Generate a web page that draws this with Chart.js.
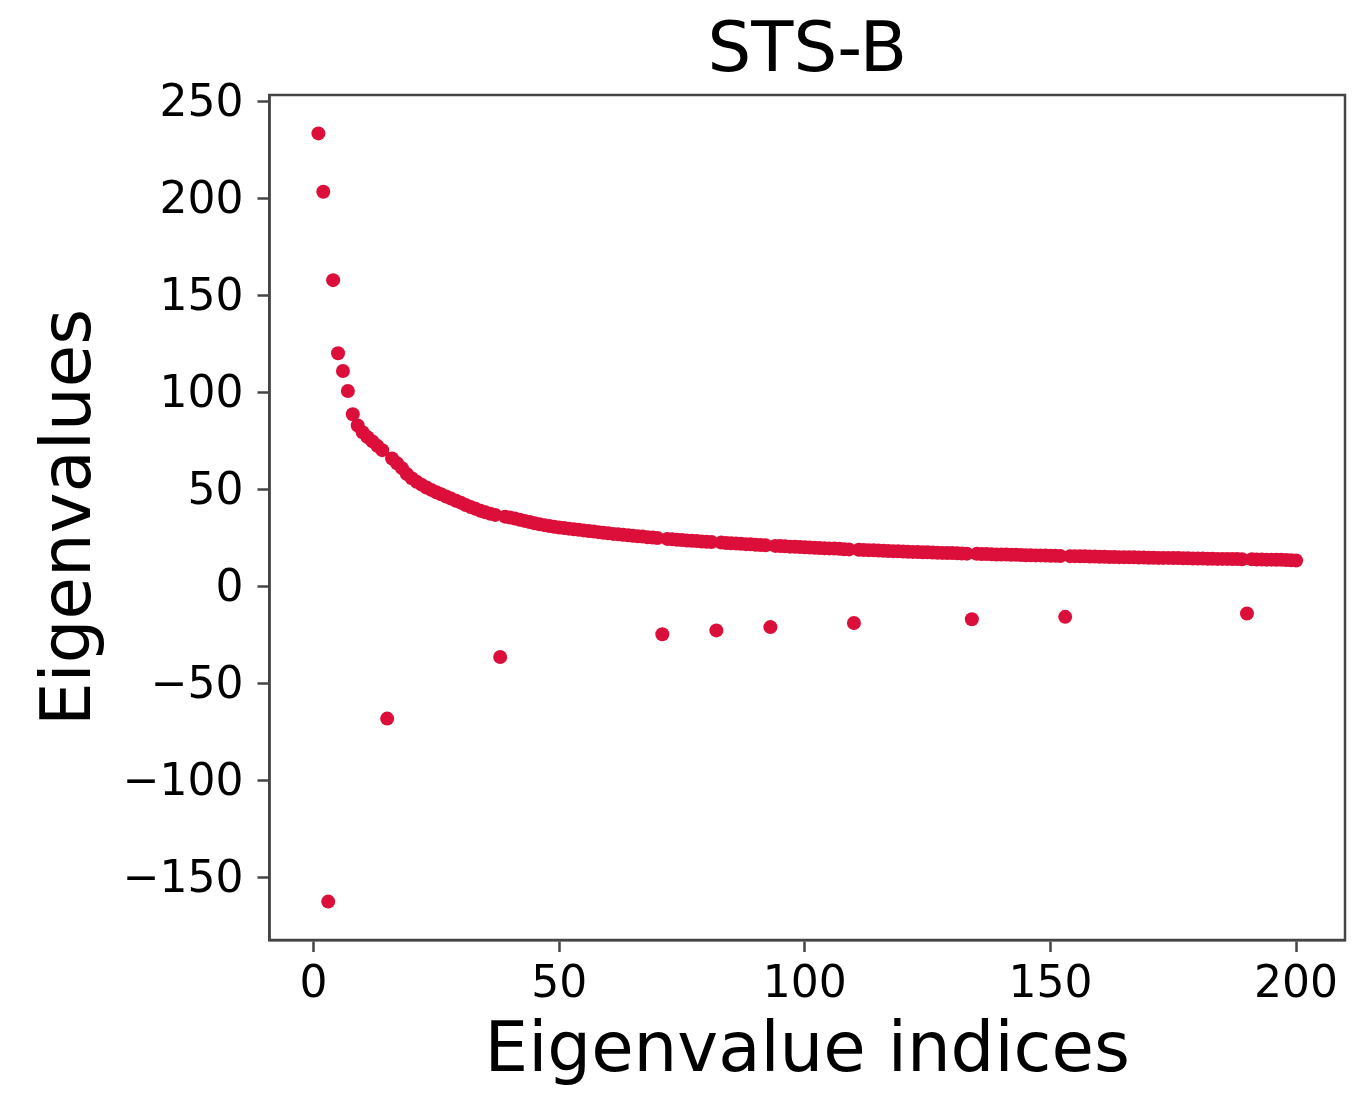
<!DOCTYPE html>
<html>
<head>
<meta charset="utf-8">
<script src="https://cdn.jsdelivr.net/npm/chart.js@4/dist/chart.umd.min.js"></script>
<style>
  html, body { margin: 0; padding: 0; background: #ffffff; }
  #wrap { width: 1358px; height: 1095px; }
</style>
</head>
<body>
<div id="wrap"><canvas id="c" width="1358" height="1095"></canvas></div>
<script>
// ---- data ----
const chartTitle = "STS-B";
const xAxisLabel = "Eigenvalue indices";
const yAxisLabel = "Eigenvalues";
const firstIndex = 1;
// eigenvalues ordered by index 1..200
const eigenvalues = [
  233.7, 203.6, -162.6, 158.0, 120.3, 111.1, 100.8, 88.8, 83.0, 79.5,
  77.0, 74.8, 72.5, 70.3, -68.2, 66.0, 63.5, 61.0, 58.0, 55.8,
  54.0, 52.5, 51.0, 49.8, 48.6, 47.5, 46.4, 45.3, 44.2, 43.2,
  42.0, 41.0, 40.0, 39.0, 38.2, 37.5, 36.9, -36.4, 36.0, 35.5,
  35.0, 34.4, 33.8, 33.2, 32.6, 32.1, 31.6, 31.2, 30.8, 30.4,
  30.1, 29.8, 29.5, 29.2, 28.9, 28.6, 28.3, 28.0, 27.7, 27.4,
  27.1, 26.9, 26.6, 26.4, 26.1, 25.9, 25.7, 25.4, 25.2, 25.0,
  -24.7, 24.5, 24.3, 24.1, 23.9, 23.7, 23.5, 23.4, 23.2, 23.0,
  22.9, -22.7, 22.6, 22.4, 22.3, 22.1, 22.0, 21.8, 21.7, 21.5,
  21.4, 21.2, -21.0, 20.9, 20.8, 20.7, 20.5, 20.4, 20.3, 20.2,
  20.1, 19.9, 19.8, 19.7, 19.6, 19.5, 19.4, 19.2, 19.1, -18.9,
  18.9, 18.8, 18.7, 18.6, 18.5, 18.4, 18.3, 18.2, 18.1, 18.0,
  17.9, 17.8, 17.7, 17.6, 17.6, 17.5, 17.4, 17.3, 17.2, 17.2,
  17.1, 17.0, 16.9, -16.9, 16.8, 16.7, 16.7, 16.6, 16.5, 16.5,
  16.4, 16.3, 16.3, 16.2, 16.1, 16.1, 16.0, 16.0, 15.9, 15.8,
  15.8, 15.7, -15.7, 15.6, 15.6, 15.5, 15.5, 15.4, 15.4, 15.3,
  15.3, 15.2, 15.2, 15.1, 15.1, 15.0, 15.0, 14.9, 14.9, 14.8,
  14.8, 14.7, 14.7, 14.7, 14.6, 14.6, 14.5, 14.5, 14.4, 14.4,
  14.4, 14.3, 14.3, 14.2, 14.2, 14.2, 14.1, 14.1, 14.0, -14.0,
  14.0, 13.9, 13.9, 13.8, 13.8, 13.7, 13.7, 13.6, 13.5, 13.4
];
const xTicks = [0, 50, 100, 150, 200];
const yTicks = [-150, -100, -50, 0, 50, 100, 150, 200, 250];
const xRange = [-8.95, 209.95];
const yRange = [-182.4, 253.5];

// ---- chart ----
const FONT = "'DejaVu Sans', 'Liberation Sans', sans-serif";
const points = eigenvalues.map((v, i) => ({ x: firstIndex + i, y: v }));
const fmt = v => (v < 0 ? '\u2212' + Math.abs(v) : String(v));

const frame = {
  id: 'frame',
  afterDatasetsDraw(chart) {
    const a = chart.chartArea, ctx = chart.ctx;
    ctx.save();
    ctx.strokeStyle = '#444';
    ctx.lineWidth = 2.5;
    ctx.strokeRect(a.left, a.top, a.right - a.left, a.bottom - a.top);
    ctx.restore();
  }
};

new Chart(document.getElementById('c'), {
  type: 'scatter',
  data: {
    datasets: [{
      data: points,
      pointRadius: 7,
      pointHoverRadius: 7,
      pointBorderWidth: 0,
      backgroundColor: '#DC0F3A',
      borderColor: '#DC0F3A'
    }]
  },
  plugins: [frame],
  options: {
    responsive: false,
    animation: false,
    devicePixelRatio: 1,
    layout: { padding: { left: 0, right: 13, top: 0, bottom: 0 } },
    plugins: {
      legend: { display: false },
      tooltip: { enabled: false },
      title: {
        display: true,
        fullSize: false,
        text: chartTitle,
        color: '#000',
        font: { family: FONT, size: 69, weight: 'normal', lineHeight: 1 },
        padding: { top: 18.5, bottom: 7.5 }
      }
    },
    scales: {
      x: {
        type: 'linear',
        min: xRange[0],
        max: xRange[1],
        afterBuildTicks: s => { s.ticks = xTicks.map(v => ({ value: v })); },
        afterFit: s => { s.height = 155; s.paddingLeft = 0; s.paddingRight = 0; },
        grid: { drawOnChartArea: false, drawTicks: true, tickLength: 12, tickColor: '#444', tickWidth: 2.5 },
        border: { display: true, color: '#444', width: 2.5 },
        ticks: {
          padding: 7,
          color: '#000',
          maxRotation: 0,
          font: { family: FONT, size: 44 },
          callback: v => fmt(v)
        },
        title: {
          display: true,
          text: xAxisLabel,
          color: '#000',
          font: { family: FONT, size: 69, lineHeight: 1 },
          padding: { top: 0, bottom: 7.5 }
        }
      },
      y: {
        type: 'linear',
        min: yRange[0],
        max: yRange[1],
        afterBuildTicks: s => { s.ticks = yTicks.map(v => ({ value: v })); },
        afterFit: s => { s.width = 269.5; s.paddingTop = 0; s.paddingBottom = 0; },
        grid: { drawOnChartArea: false, drawTicks: true, tickLength: 12, tickColor: '#444', tickWidth: 2.5 },
        border: { display: true, color: '#444', width: 2.5 },
        ticks: {
          padding: 14,
          labelOffset: 3,
          color: '#000',
          font: { family: FONT, size: 44 },
          callback: v => fmt(v)
        },
        title: {
          display: true,
          text: yAxisLabel,
          color: '#000',
          font: { family: FONT, size: 69, lineHeight: 1 },
          padding: { top: 38, bottom: 0 }
        }
      }
    }
  }
});
</script>
</body>
</html>
